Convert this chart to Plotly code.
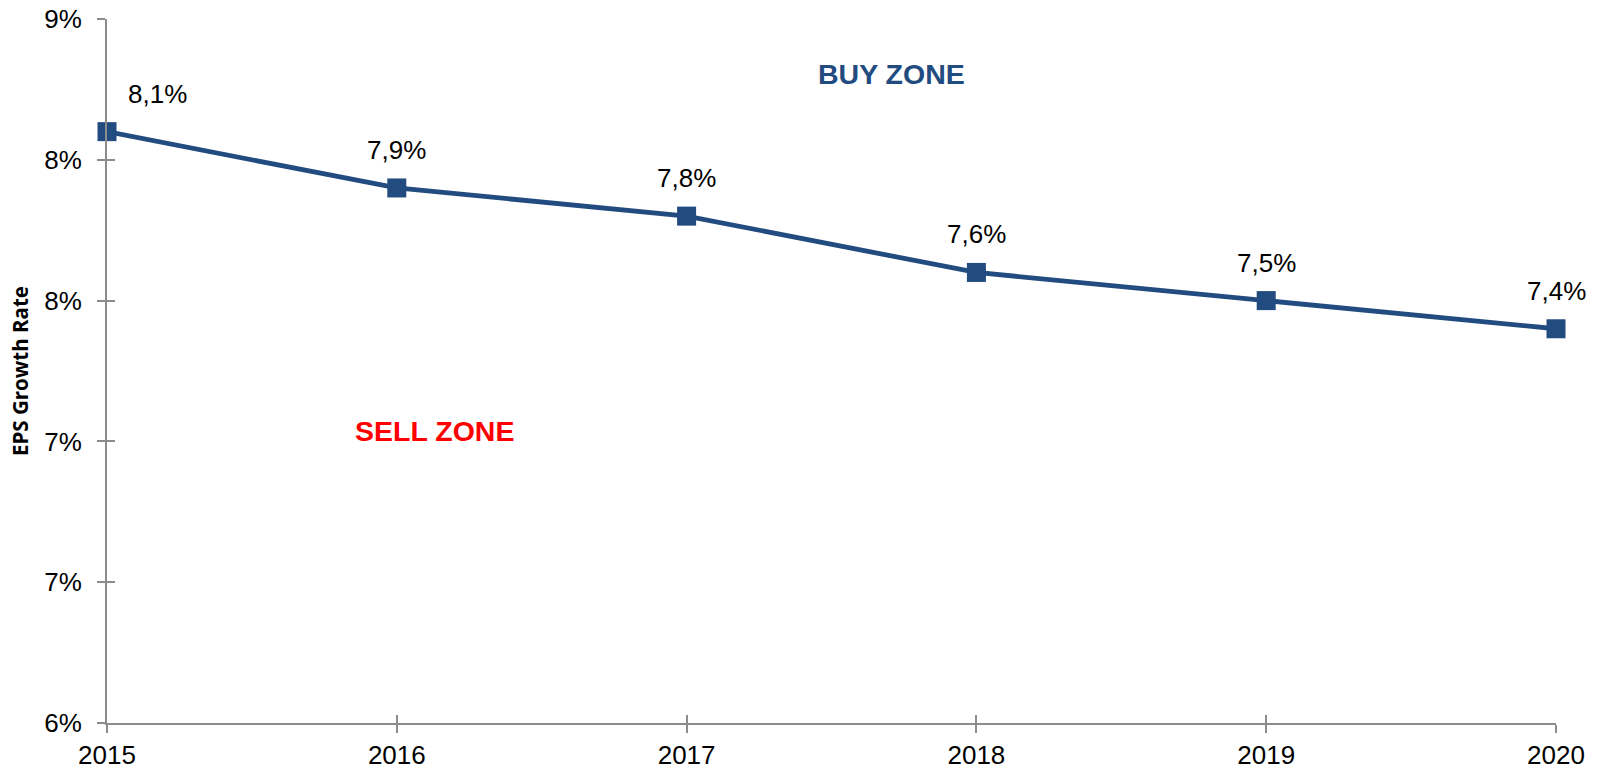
import plotly.graph_objects as go

years = [2015, 2016, 2017, 2018, 2019, 2020]
eps_growth = [8.1, 7.9, 7.8, 7.6, 7.5, 7.4]
point_labels = ["8,1%", "7,9%", "7,8%", "7,6%", "7,5%", "7,4%"]
y_tick_vals = [6.0, 6.5, 7.0, 7.5, 8.0, 8.5]
y_tick_text = ["6%", "7%", "7%", "8%", "8%", "9%"]

line_color = "#224B80"
axis_color = "#8C8C8C"
font_family = "Liberation Sans, Arial, sans-serif"

fig = go.Figure()
# overlay trace only to activate the inner-tick axes
fig.add_trace(go.Scatter(
    x=years, y=eps_growth, xaxis="x2", yaxis="y2", mode="markers",
    marker=dict(opacity=0), hoverinfo="skip", showlegend=False,
))
fig.add_trace(go.Scatter(
    x=years, y=eps_growth, mode="lines+markers",
    line=dict(color=line_color, width=4.8),
    marker=dict(symbol="square", size=19, color=line_color),
    hoverinfo="skip", showlegend=False, cliponaxis=False,
))

for i, (x, y, t) in enumerate(zip(years, eps_growth, point_labels)):
    fig.add_annotation(
        x=x, y=y, text=t, showarrow=False,
        font=dict(family=font_family, size=26, color="#000000"),
        yshift=38, xshift=50 if i == 0 else 0,
    )

fig.add_annotation(x=2017.706, y=8.305, text="<b>BUY ZONE</b>", showarrow=False,
                   font=dict(family=font_family, size=28.5, color=line_color))
fig.add_annotation(x=2016.129, y=7.037, text="<b>SELL ZONE</b>", showarrow=False,
                   font=dict(family=font_family, size=28.5, color="#FF0000"))

fig.add_annotation(xref="paper", yref="paper", x=0, y=0.5, xshift=-87,
                   xanchor="center", yanchor="middle",
                   text="<b>EPS Growth Rate</b>", textangle=-90, showarrow=False,
                   font=dict(family="Open Sans, sans-serif", size=20.5, color="#000000"))

common_tick = dict(ticklen=8, tickwidth=2, tickcolor=axis_color,
                   showgrid=False, zeroline=False, automargin=False)

fig.update_layout(
    width=1602, height=771,
    margin=dict(l=107, r=46, t=19, b=48),
    paper_bgcolor="white", plot_bgcolor="white",
    xaxis=dict(
        range=[2015, 2020], tickvals=years, ticktext=[str(y) for y in years],
        showline=True, linecolor=axis_color, linewidth=2, ticks="outside",
        tickfont=dict(family=font_family, size=26, color="#000000"),
        **common_tick,
    ),
    yaxis=dict(
        range=[6.0, 8.5], tickvals=y_tick_vals, ticktext=y_tick_text,
        showline=True, linecolor=axis_color, linewidth=2, ticks="outside",
        ticklabelstandoff=10,
        tickfont=dict(family=font_family, size=26, color="#000000"),
        **common_tick,
    ),
    xaxis2=dict(
        range=[2015, 2020], tickvals=years, overlaying="x", anchor="y2",
        side="bottom", ticks="inside", showticklabels=False, showline=False,
        **common_tick,
    ),
    yaxis2=dict(
        range=[6.0, 8.5], tickvals=y_tick_vals, overlaying="y", anchor="x2",
        side="left", ticks="inside", showticklabels=False, showline=False,
        **common_tick,
    ),
)

fig.write_html("out.html")
